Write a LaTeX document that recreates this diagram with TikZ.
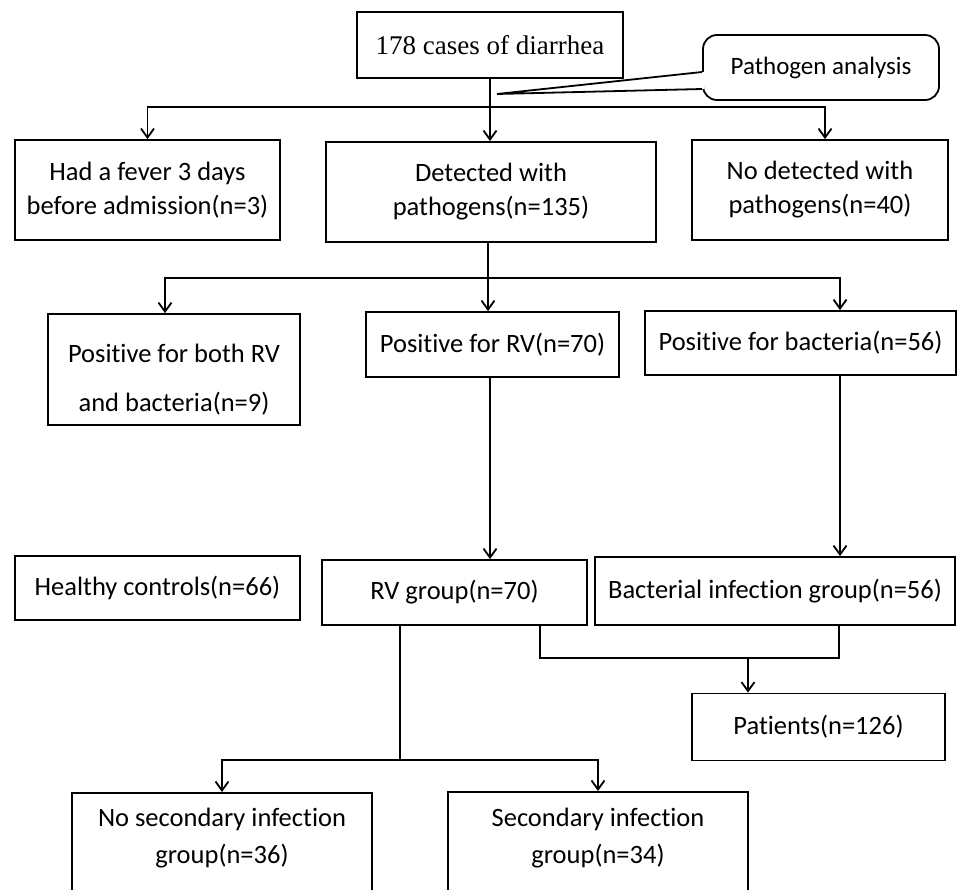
\documentclass[tikz,border=0pt]{standalone}
\usepackage{fontspec}
\setmainfont{Carlito}[Ligatures={NoCommon}]
\newfontfamily\serifA{Liberation Serif}
\usetikzlibrary{arrows.meta,calc}
\begin{document}
\begin{tikzpicture}[x=1pt,y=-1pt,
  box/.style={draw, line width=1.8pt, inner sep=0pt, align=center, font=\fontsize{26.5}{34}\selectfont},
  txt/.style={inner sep=0pt, align=center, font=\fontsize{26.5}{34}\selectfont},
  line/.style={line width=1.8pt},
  arr/.style={line width=1.8pt, -{Straight Barb[length=9pt,width=13pt]}}]
\useasboundingbox (0,0) rectangle (960,890);
\clip (0,0) rectangle (960,890);

% top
\node[box, font=\serifA\fontsize{27}{30}\selectfont, minimum width=266pt, minimum height=66pt] (A) at (490,45) {178 cases of diarrhea};
\node[box, rounded corners=14pt, minimum width=236pt, minimum height=65pt, font=\fontsize{25}{30}\selectfont] (PA) at (821,67.5) {Pathogen analysis};
\coordinate (tip) at (497,94);
\fill[white] ([xshift=1.8pt,yshift=-4.5pt]PA.west) -- (tip) -- ([xshift=1.8pt,yshift=-21.5pt]PA.west) -- cycle;
\draw[line] ([yshift=-4.5pt]PA.west) -- (tip) -- ([yshift=-21.5pt]PA.west);

% row 2
\node[box, minimum width=265pt, minimum height=100pt] (B1) at (147.5,190) {Had a fever 3 days\\before admission(n=3)};
\node[box, minimum width=330pt, minimum height=100pt] (B2) at (491,192) {Detected with\\pathogens(n=135)};
\node[box, minimum width=256pt, minimum height=100pt] (B3) at (820,190) {No detected with\\pathogens(n=40)};

\coordinate (j1) at (490,107);
\draw[arr] (A.south) -- (A.south |- B2.north);
\draw[arr] (j1) -| (B1.north);
\draw[arr] (j1) -| ([xshift=5pt]B3.north);

% row 3
\node[box, minimum width=252pt, minimum height=111pt] (C1) at (174,369.5) {};
\node[txt, font=\fontsize{26.5}{49}\selectfont] (C1t) at ([yshift=-10pt]C1.center) {Positive for both RV\\and bacteria(n=9)};
\node[box, minimum width=253pt, minimum height=65pt] (C2) at (492.5,344.5) {Positive for RV(n=70)};
\node[box, minimum width=311pt, minimum height=64pt] (C3) at (800.5,343) {Positive for bacteria(n=56)};

\coordinate (j2) at (488,278);
\draw[line] (j2 |- B2.south) -- (j2);
\draw[arr] (j2) -- (j2 |- C2.north);
\draw[arr] (j2) -| ([xshift=-9pt]C1.north);
\draw[arr] (j2) -| ([xshift=39.5pt]C3.north);

% row 4
\node[box, minimum width=285pt, minimum height=64pt] (D1) at (157.5,588) {Healthy controls(n=66)};
\node[box, minimum width=265pt, minimum height=65pt] (D2) at (454.5,592.5) {RV group(n=70)};
\node[box, minimum width=360pt, minimum height=68pt] (D3) at (775,591) {Bacterial infection group(n=56)};

\path ([xshift=-2.5pt]C2.south) coordinate (c2s);
\path ([xshift=39.5pt]C3.south) coordinate (c3s);
\draw[arr] (c2s) -- (c2s |- D2.north);
\draw[arr] (c3s) -- (c3s |- D3.north);

% patients
\node[box, minimum width=253pt, minimum height=67pt] (E) at (818.5,727) {Patients(n=126)};
\path ([xshift=85.5pt]D2.south) coordinate (d2r);
\path ([xshift=64pt]D3.south) coordinate (d3s);
\coordinate (j3) at (748,658);
\draw[line] (d2r) |- (j3) -| (d3s);
\draw[arr] (j3) -- (j3 |- E.north);

% row 5
\node[box, minimum width=300pt, minimum height=110pt, anchor=north] (F1) at (222,792) {};
\node[box, minimum width=300pt, minimum height=110pt, anchor=north] (F2) at (598,791) {};
\node[txt, font=\fontsize{26.5}{37}\selectfont] (F1t) at ([yshift=-46.5pt]F1.north) {No secondary infection\\group(n=36)};
\node[txt, font=\fontsize{26.5}{37}\selectfont] (F2t) at ([yshift=-47.5pt]F2.north) {Secondary infection\\group(n=34)};

\path ([xshift=-54.5pt]D2.south) coordinate (d2l);
\coordinate (j4) at (400,760);
\draw[line] (d2l) -- (j4);
\draw[arr] (j4) -| (F1.north);
\draw[arr] (j4) -| (F2.north);
\end{tikzpicture}
\end{document}
